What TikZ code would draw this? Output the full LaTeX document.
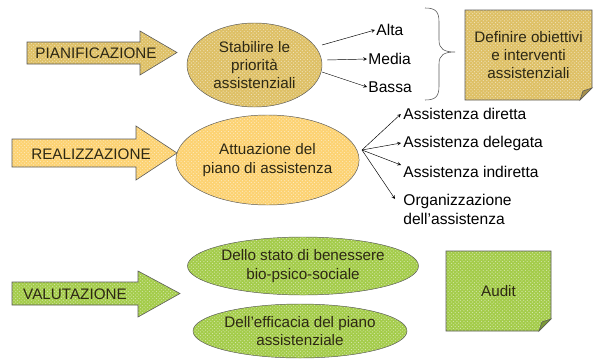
\documentclass[tikz,border=0pt]{standalone}
\usepackage{fontspec}
\setmainfont{Liberation Sans}
\usetikzlibrary{shapes.geometric,patterns}
\definecolor{oro}{RGB}{222,192,102}
\definecolor{arancio}{RGB}{252,210,114}
\definecolor{verde}{RGB}{164,204,74}
\definecolor{bordo}{RGB}{90,90,90}
\definecolor{scuro}{RGB}{45,40,20}
\tikzset{
  testo/.style={font=\fontsize{13}{15.5}\selectfont, align=center, inner sep=0pt, text=scuro},
  voce/.style={font=\fontsize{13.3}{16}\selectfont, align=left, inner sep=1pt, anchor=west},
  trama/.style={preaction={fill=#1}, pattern=crosshatch dots, pattern color=white!55!#1},
  bolla/.style={ellipse, draw=bordo, inner sep=0pt, font=\fontsize{13}{16}\selectfont, align=center, text=scuro},
  linea/.style={draw=bordo, line width=0.5pt}
}
\begin{document}
\begin{tikzpicture}[x=0.03cm,y=-0.03cm]
  \useasboundingbox (0,0) rectangle (597,360);

  % Frecce grandi
  \draw[linea, trama=oro] (27,42) -- (140,42) -- (140,31) -- (177,52.5) -- (140,75) -- (140,64) -- (27,64) -- cycle;
  \node[testo] (pian) at (96,53) {PIANIFICAZIONE};
  \draw[linea, trama=arancio] (12,139) -- (136,139) -- (136,126) -- (177,153) -- (136,180) -- (136,167) -- (12,167) -- cycle;
  \node[testo] (real) at (91,154) {REALIZZAZIONE};
  \draw[linea, trama=verde] (12,282) -- (138,282) -- (138,271) -- (180,293.5) -- (138,317) -- (138,305) -- (12,305) -- cycle;
  \node[testo] (valu) at (75,294) {VALUTAZIONE};

  % Ellissi
  \node[bolla, trama=oro, minimum width=4.05cm, minimum height=2.52cm] (stab) at (254.5,65)
    {Stabilire le\\[-1pt]priorità\\[-1pt]assistenziali};
  \node[bolla, trama=arancio, minimum width=5.43cm, minimum height=2.7cm] (attu) at (267.5,160)
    {Attuazione del\\piano di assistenza};
  \node[bolla, trama=verde, minimum width=6.9cm, minimum height=1.74cm] (stato) at (303,266)
    {Dello stato di benessere\\bio-psico-sociale};
  \node[bolla, trama=verde, minimum width=6.42cm, minimum height=1.62cm] (effi) at (300,331)
    {Dell'efficacia del piano\\assistenziale};

  % Priorita
  \node[voce] (alta) at (375,30) {Alta};
  \node[voce] (media) at (367,59) {Media};
  \node[voce] (bassa) at (367,87) {Bassa};
  \coordinate (a1) at (322,45);
  \coordinate (a2) at (327,60);
  \coordinate (a3) at (322,72);
  \draw[-stealth] (a1) -- (alta.west);
  \draw[-stealth] (a2) -- (media.west);
  \draw[-stealth] (a3) -- (bassa.west);

  % Graffa
  \draw[linea] (425,8) .. controls (436,8) and (439,12) .. (439,22) -- (439,40)
    .. controls (439,49) and (444,52) .. (455,52)
    .. controls (444,52) and (439,55) .. (439,64) -- (439,86)
    .. controls (439,96) and (436,100) .. (425,100);

  % Note
  \draw[linea, trama=oro] (465,10) -- (592,10) -- (592,88) -- (580,100) -- (465,100) -- cycle;
  \filldraw[linea, fill=oro!75!black] (592,88) -- (580,100) -- (583,91) -- cycle;
  \node[testo] (defi) at (528.5,55) {Definire obiettivi\\e interventi\\assistenziali};
  \draw[linea, trama=verde] (446,251) -- (551,251) -- (551,319) -- (539,331) -- (446,331) -- cycle;
  \filldraw[linea, fill=verde!75!black] (551,319) -- (539,331) -- (542,322) -- cycle;
  \node[testo] (audit) at (498.5,291) {Audit};

  % Tipi di assistenza
  \node[voce] (dir) at (402,114) {Assistenza diretta};
  \node[voce] (del) at (402,143) {Assistenza delegata};
  \node[voce] (ind) at (402,172) {Assistenza indiretta};
  \node[voce, anchor=north west] (org) at (402,193) {Organizzazione\\dell’assistenza};
  \coordinate (hub) at (362,150);
  \draw[-stealth] (hub) -- ([xshift=-1]dir.west);
  \draw[-stealth] (hub) -- ([shift={(-1,0)}]del.west);
  \draw[-stealth] (hub) -- ([shift={(-1,-7)}]ind.west);
  \draw[-stealth] (hub) -- ([shift={(-7,6)}]org.north west);
\end{tikzpicture}
\end{document}
